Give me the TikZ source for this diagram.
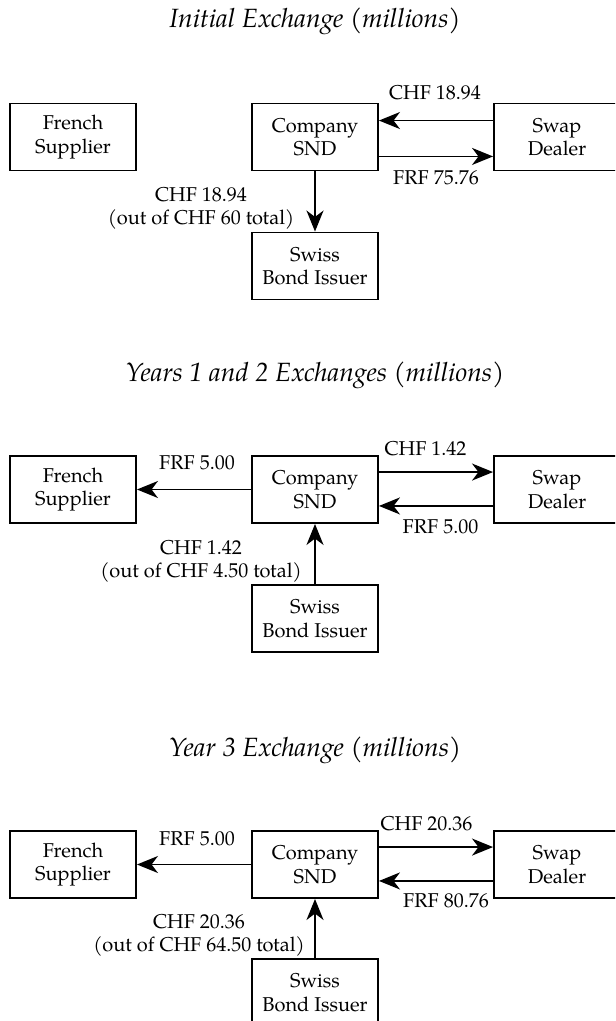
\documentclass[tikz,border=0pt]{standalone}
\usepackage{fontspec}
\setmainfont{texgyrepagella}[Extension=.otf, UprightFont=*-regular, ItalicFont=*-italic, BoldFont=*-bold, BoldItalicFont=*-bolditalic]
\usetikzlibrary{arrows.meta}

\tikzset{
  party/.style={draw, line width=0.95pt, fill=white, minimum width=63pt, minimum height=33.5pt,
    inner sep=0pt, align=center, font=\fontsize{10}{11.75}\selectfont},
  flow/.style={line width=0.9pt, -{Stealth[length=10.5pt, width=8.5pt, inset=3.2pt]}},
  amount/.style={anchor=base, inner sep=0pt, font=\fontsize{10}{11.75}\selectfont},
  source/.style={inner sep=0pt, align=center, font=\fontsize{10}{11.5}\selectfont},
  heading/.style={anchor=base, inner sep=0pt, font=\fontsize{13.2}{16}\selectfont\itshape},
}

\begin{document}
\begin{tikzpicture}[x=0.5pt, y=-0.5pt]
\useasboundingbox (0,0) rectangle (615,1021);
\clip (0,0) rectangle (615,1021);

% ---------- Initial exchange ----------
\node[heading] (t1) at (315,28) {Initial Exchange (millions)};
\node[party] (fs1) at (73,137) {French\\Supplier};
\node[party] (co1) at (315,137) {Company\\SND};
\node[party] (sd1) at (557,137) {Swap\\Dealer};
\node[party] (sb1) at (315,266) {Swiss\\Bond Issuer};

\draw[flow] ([yshift=-9pt]sd1.north west) -- ([yshift=-9pt]co1.north east);
\draw[flow] ([yshift=7.5pt]co1.south east) -- ([yshift=7.5pt]sd1.south west);
\draw[flow] (co1) -- (sb1);

\node[amount] (a1) at (435,100) {CHF 18.94};
\node[amount] (b1) at (436,185) {FRF 75.76};
\node[source] (c1) at (201,208.5) {CHF 18.94\\(out of CHF 60 total)};

% ---------- Years 1 and 2 ----------
\node[heading] (t2) at (315,381) {Years 1 and 2 Exchanges (millions)};
\node[party] (fs2) at (73,489.5) {French\\Supplier};
\node[party] (co2) at (315,489.5) {Company\\SND};
\node[party] (sd2) at (557,489.5) {Swap\\Dealer};
\node[party] (sb2) at (315,618.5) {Swiss\\Bond Issuer};

\draw[flow] (co2) -- (fs2);
\draw[flow] ([yshift=-8.5pt]co2.north east) -- ([yshift=-8.5pt]sd2.north west);
\draw[flow] ([yshift=9pt]sd2.south west) -- ([yshift=9pt]co2.south east);
\draw[flow] (sb2) -- (co2);

\node[amount] (d2) at (197,469) {FRF 5.00};
\node[amount] (a2) at (425.5,455) {CHF 1.42};
\node[amount] (b2) at (440.5,533) {FRF 5.00};
\node[source] (c2) at (201,561) {CHF 1.42\\(out of CHF 4.50 total)};

% ---------- Year 3 ----------
\node[heading] (t3) at (315,756) {Year 3 Exchange (millions)};
\node[party] (fs3) at (73,864.5) {French\\Supplier};
\node[party] (co3) at (315,864.5) {Company\\SND};
\node[party] (sd3) at (557,864.5) {Swap\\Dealer};
\node[party] (sb3) at (315,992.5) {Swiss\\Bond Issuer};

\draw[flow] (co3) -- (fs3);
\draw[flow] ([yshift=-8.5pt]co3.north east) -- ([yshift=-8.5pt]sd3.north west);
\draw[flow] ([yshift=9pt]sd3.south west) -- ([yshift=9pt]co3.south east);
\draw[flow] (sb3) -- (co3);

\node[amount] (d3) at (197,845) {FRF 5.00};
\node[amount] (a3) at (426.5,830) {CHF 20.36};
\node[amount] (b3) at (446,907) {FRF 80.76};
\node[source] (c3) at (199,935.5) {CHF 20.36\\(out of CHF 64.50 total)};
\end{tikzpicture}
\end{document}
